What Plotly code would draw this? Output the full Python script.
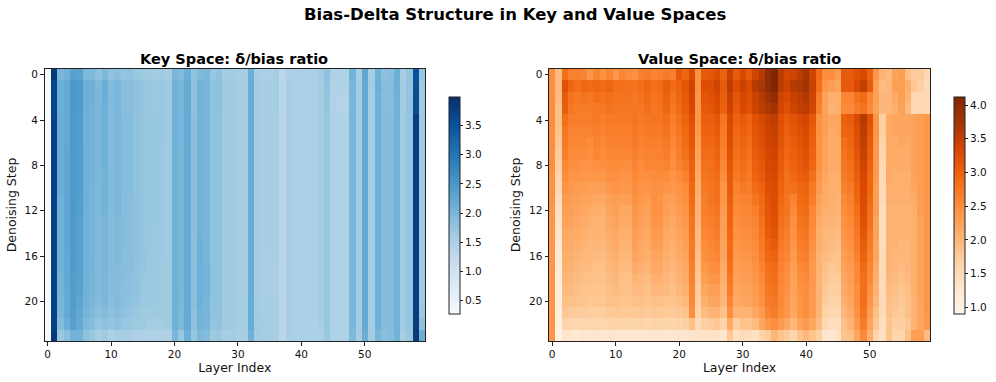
import plotly.graph_objects as go

# delta/bias ratio x 100, one list per denoising step
key_rows = [
[30,385,200,208,235,232,195,195,180,195,178,185,175,178,172,165,165,162,165,160,200,192,212,178,195,198,172,178,160,162,155,155,212,155,150,150,155,135,150,148,150,148,150,162,180,145,145,145,205,155,225,158,208,182,185,212,158,176,352,172],
[30,368,212,218,248,244,210,208,196,212,190,198,184,187,180,175,172,170,170,165,210,202,220,182,205,202,180,182,165,165,160,160,217,160,155,155,158,135,155,150,150,150,150,160,178,145,145,145,200,160,222,160,212,188,188,210,160,176,358,165],
[30,368,212,220,248,244,210,208,198,212,192,198,186,187,180,175,172,170,170,165,210,202,220,182,205,202,180,182,165,165,160,160,217,160,155,155,158,135,155,150,150,150,150,160,175,145,142,142,198,160,222,160,208,188,188,208,160,176,360,165],
[30,368,212,220,248,244,210,206,198,210,192,198,186,187,180,175,172,170,170,165,210,202,220,182,205,202,180,182,165,165,160,160,217,160,155,155,158,135,155,150,150,150,150,160,175,145,142,142,198,160,222,160,208,188,188,208,160,176,360,165],
[30,372,214,222,248,242,210,206,198,208,192,198,188,188,180,175,172,172,170,165,210,202,220,184,205,202,180,180,165,165,160,160,217,160,155,155,156,135,155,150,150,150,150,160,172,145,145,145,200,160,220,160,208,190,190,205,163,175,380,165],
[30,372,214,222,248,242,210,206,198,208,192,198,188,188,180,175,172,172,170,165,210,202,220,184,205,202,180,180,165,165,160,160,217,160,155,155,156,135,155,150,150,150,150,160,172,145,145,145,200,160,220,160,208,190,190,205,163,175,380,165],
[30,372,214,222,248,242,210,206,198,208,192,198,188,188,180,175,172,172,168,165,210,202,220,184,205,202,180,180,165,165,160,160,217,160,155,155,155,135,155,150,150,150,150,160,172,145,145,145,200,160,220,160,208,190,190,205,163,175,380,165],
[30,372,214,224,246,240,210,206,198,208,192,198,188,188,180,175,172,172,168,165,208,202,220,184,205,202,180,180,165,165,160,160,217,160,155,155,155,135,155,150,150,150,150,160,172,145,145,145,200,160,220,160,208,190,190,205,163,175,380,165],
[30,372,214,224,246,240,210,206,198,208,192,198,188,188,180,175,172,172,168,165,208,202,220,184,205,202,180,180,165,165,160,160,217,160,155,155,155,135,155,150,150,150,150,160,172,145,145,145,200,160,220,160,208,190,190,205,163,175,380,165],
[30,372,214,224,246,240,210,206,198,205,192,198,188,188,180,175,172,172,168,165,208,202,220,184,207,202,180,180,165,165,160,160,217,160,155,155,155,135,153,150,150,150,150,160,172,145,145,145,200,160,220,160,208,190,190,205,163,175,380,165],
[30,372,214,224,246,240,210,204,196,205,192,198,188,188,180,174,172,172,168,165,208,202,220,184,207,202,180,180,165,165,160,160,217,160,155,155,155,135,153,150,150,150,150,160,172,145,145,145,200,160,220,160,208,190,190,205,163,175,380,165],
[30,372,210,224,246,238,210,204,196,205,192,198,188,186,180,174,172,172,168,165,208,202,220,184,207,202,180,180,165,165,160,160,217,160,155,155,155,135,153,150,150,150,150,160,172,145,145,145,200,160,220,160,208,190,190,205,163,175,380,165],
[30,372,208,224,246,238,208,204,196,205,190,198,188,186,180,174,172,172,168,165,208,202,220,184,207,202,180,180,165,165,160,160,217,160,155,155,155,135,153,150,150,150,150,160,172,145,145,145,200,160,220,160,208,190,190,205,163,175,380,165],
[30,372,208,224,246,236,208,204,196,202,190,195,188,186,180,174,172,172,168,165,208,202,220,184,207,202,180,180,165,165,160,160,217,160,155,155,155,135,153,150,150,150,150,160,172,145,145,145,200,160,220,160,208,190,190,205,163,175,380,165],
[30,372,208,224,244,236,208,204,196,202,190,195,188,186,180,174,172,170,168,165,208,200,220,184,207,202,180,180,165,165,160,160,217,160,155,155,155,135,153,150,150,150,150,160,172,145,145,145,200,160,220,160,208,190,190,205,163,175,380,165],
[30,372,208,224,244,236,208,204,196,202,190,195,188,186,180,174,172,170,168,165,208,200,220,184,210,202,180,180,165,165,160,160,217,160,155,155,155,135,153,150,150,150,150,160,172,145,145,145,200,160,220,160,208,190,190,205,163,175,380,165],
[30,372,208,222,244,234,208,204,194,202,190,195,186,186,180,174,170,170,168,165,208,200,220,184,210,202,180,180,165,165,160,160,217,160,155,152,155,135,153,150,150,150,150,160,172,145,145,145,200,160,220,160,208,190,190,205,163,175,380,165],
[30,372,208,222,244,234,206,204,194,200,190,192,186,186,178,174,170,170,165,165,208,200,220,184,210,204,180,180,165,165,160,160,217,160,155,152,152,135,153,150,150,150,150,160,172,145,145,145,200,160,220,160,208,190,190,205,163,175,380,165],
[30,372,205,222,242,234,206,202,194,200,188,192,186,184,178,172,170,170,165,165,208,200,220,184,210,204,180,180,165,165,160,160,217,160,155,152,152,135,153,150,150,150,150,160,172,145,145,145,200,160,220,160,208,190,190,205,163,175,380,165],
[30,372,205,220,242,232,206,202,194,198,188,190,184,184,178,172,170,168,165,165,208,198,220,184,210,204,180,180,165,165,160,160,217,160,155,152,152,135,153,150,150,150,150,160,172,145,145,145,200,160,220,160,208,190,190,205,163,175,380,165],
[30,372,202,220,242,228,206,198,190,198,186,190,184,180,176,168,168,168,165,165,208,198,220,184,210,202,180,180,165,165,160,160,217,162,158,155,152,135,153,150,150,150,150,160,172,145,145,145,200,160,220,160,208,190,190,205,163,175,380,165],
[30,372,198,220,238,224,204,195,184,190,182,186,180,176,172,165,165,165,165,165,208,195,220,182,207,202,178,180,165,165,160,160,217,162,158,155,152,135,153,150,150,150,150,160,172,145,145,145,200,160,220,160,208,190,190,205,163,175,380,168],
[30,376,190,212,234,220,195,188,175,180,175,180,172,172,165,165,160,160,160,165,208,195,220,180,205,200,175,178,165,165,160,160,217,162,160,158,152,135,153,150,150,150,150,155,172,148,145,145,200,160,220,160,208,190,190,205,163,175,382,180],
[30,385,170,185,205,205,178,170,155,165,148,155,155,152,148,148,145,145,148,148,200,172,212,172,195,190,165,170,155,160,155,155,208,162,158,158,152,135,153,150,150,150,150,150,168,145,145,145,196,160,212,160,200,185,188,205,158,172,388,212],
]

value_rows = [
[250,195,285,265,265,260,240,260,245,260,240,260,250,245,265,270,260,265,270,265,310,295,330,245,310,315,325,300,345,310,330,310,340,360,395,412,355,335,340,355,375,340,290,250,250,230,310,310,320,330,300,240,205,195,225,230,190,175,175,155],
[250,195,320,295,285,295,290,295,290,295,285,285,280,280,285,295,285,290,305,290,300,315,340,245,325,325,340,310,355,325,345,330,360,370,395,412,355,340,360,365,380,345,285,240,230,220,310,310,330,350,310,230,195,200,230,230,210,180,170,150],
[250,195,310,280,275,280,275,285,280,285,280,280,280,275,280,290,280,285,300,280,295,310,335,240,315,320,330,305,345,315,335,325,345,360,380,395,340,330,345,355,365,340,270,225,210,210,260,260,280,290,260,230,200,200,215,230,205,155,155,155],
[250,190,305,275,270,270,270,275,275,280,275,275,275,275,275,285,275,280,295,275,290,305,330,240,310,315,325,300,340,310,330,320,340,355,365,375,335,320,340,350,355,335,265,225,205,210,255,255,270,280,255,225,200,200,210,225,195,155,155,155],
[250,190,285,268,268,268,268,272,268,272,272,272,272,280,272,278,278,278,285,268,282,298,320,240,302,302,312,278,330,298,308,298,320,330,345,352,322,308,318,328,335,312,245,230,220,220,300,305,330,360,320,240,170,215,220,220,220,225,230,240],
[250,185,278,262,262,262,262,268,262,268,268,268,268,275,268,272,272,272,280,262,278,292,316,235,298,298,308,272,326,292,302,292,316,326,342,348,318,302,312,322,330,306,245,230,215,220,295,300,325,355,315,240,170,215,220,220,220,225,230,240],
[250,180,272,258,258,258,252,262,258,262,262,262,262,270,262,266,266,266,272,258,272,288,312,230,292,292,302,268,322,288,298,288,312,322,338,344,314,298,306,316,326,302,245,225,215,215,285,295,320,350,310,235,165,215,215,220,215,225,230,240],
[250,175,268,252,252,252,248,258,252,258,258,258,258,266,258,262,262,262,268,252,268,282,308,225,288,288,298,262,318,282,292,282,308,318,334,340,310,292,302,312,322,298,245,225,215,215,280,290,315,345,305,235,160,215,215,215,215,225,230,240],
[250,170,258,248,248,242,242,248,248,252,252,252,248,262,252,258,258,258,262,248,262,272,302,220,282,282,292,258,312,278,288,278,302,312,330,335,306,288,298,308,316,292,245,225,215,215,275,285,310,340,300,235,155,215,215,215,215,225,230,240],
[245,160,252,242,242,238,238,238,238,248,248,242,242,256,248,248,252,252,252,242,252,262,298,215,278,282,288,252,308,272,282,272,298,308,326,332,302,282,292,302,308,282,240,220,210,210,270,280,305,335,295,235,150,215,210,210,210,225,230,240],
[245,155,242,238,232,232,228,228,228,238,242,238,238,250,242,242,246,246,242,238,242,252,292,210,272,278,282,242,306,262,272,268,288,298,322,328,298,282,282,292,298,272,235,215,210,210,265,270,300,330,295,230,150,210,210,210,210,220,230,240],
[245,145,232,232,228,224,224,218,218,228,232,228,228,245,238,232,246,242,232,228,238,248,288,205,268,278,282,238,302,258,262,262,278,292,318,325,292,278,262,288,292,268,225,215,210,205,255,265,295,328,290,230,148,208,208,208,208,215,230,240],
[240,140,228,228,224,218,214,210,210,224,228,218,218,240,232,228,245,245,228,224,232,242,282,205,268,272,278,234,300,254,258,258,268,288,315,325,288,278,254,282,288,258,220,210,210,205,250,260,285,325,285,230,145,205,205,205,205,210,230,240],
[240,135,224,224,218,214,210,205,205,218,224,214,214,236,228,224,240,240,224,218,228,238,278,200,262,268,272,230,298,248,254,254,262,282,312,320,282,272,248,278,282,254,215,205,205,200,245,255,280,320,280,225,145,205,205,205,205,210,225,240],
[240,130,218,218,214,210,205,205,205,214,218,210,210,232,224,218,235,235,218,214,224,232,278,195,258,262,268,228,292,245,250,250,258,278,308,316,278,268,245,272,278,250,210,200,200,195,240,250,275,315,275,225,145,205,205,205,205,210,225,240],
[240,125,214,214,210,205,200,200,200,210,214,205,205,228,218,214,230,228,214,210,218,228,272,195,252,258,262,224,288,240,245,245,254,272,298,308,272,262,240,268,272,245,210,200,195,190,235,245,270,305,270,220,145,205,205,200,200,210,225,240],
[240,120,210,210,205,200,198,195,195,205,210,200,200,222,214,210,222,222,210,205,214,224,272,190,248,254,258,220,288,235,240,240,250,268,292,298,268,258,235,262,268,240,205,195,190,185,230,240,265,300,265,220,150,205,200,200,200,210,225,240],
[240,115,205,205,200,195,195,190,190,200,205,195,195,214,208,205,218,218,205,200,208,218,268,185,240,248,250,215,282,230,235,235,245,262,285,290,262,252,230,255,260,235,205,190,180,185,225,235,255,290,260,215,150,205,200,195,200,210,225,240],
[240,112,200,200,195,190,190,188,188,195,200,190,190,205,200,195,208,208,200,195,205,215,262,180,230,240,240,210,275,225,230,230,240,255,280,285,258,248,225,250,255,235,205,185,175,175,220,230,255,285,255,210,150,200,195,190,195,210,225,240],
[240,110,195,195,190,185,185,185,185,190,195,190,188,195,195,190,200,200,195,190,200,205,258,175,220,230,230,205,270,220,225,225,235,250,275,280,255,245,225,245,250,235,205,180,170,170,215,225,250,285,245,205,150,195,190,185,190,210,225,240],
[240,108,190,188,185,185,180,182,182,188,190,185,185,190,190,185,190,190,185,185,190,198,255,170,210,220,220,200,260,215,220,220,230,245,270,275,255,240,220,240,250,235,205,175,165,165,210,220,250,285,240,200,150,190,185,180,190,205,222,240],
[240,105,182,178,175,175,172,172,172,178,180,178,178,180,180,178,180,180,178,178,180,185,250,165,195,205,205,188,250,205,205,205,220,235,262,270,250,240,220,240,250,235,205,165,155,155,200,215,245,280,230,190,150,190,180,175,190,205,220,240],
[240,105,165,160,158,160,158,160,160,165,165,162,162,165,165,160,165,165,162,160,165,170,190,150,170,175,180,165,215,170,185,185,195,220,240,250,235,220,200,225,235,220,195,155,145,145,190,205,235,270,220,180,145,185,170,170,180,205,220,235],
[240,100,130,130,122,130,128,130,128,130,128,125,128,128,125,128,130,130,128,128,130,130,135,135,135,135,135,130,180,140,150,145,140,165,175,200,185,175,160,185,200,185,170,130,125,135,185,190,220,255,210,160,140,185,160,160,190,230,230,195],
]

key_title = "Key Space: δ/bias ratio"
value_title = "Value Space: δ/bias ratio"
main_title = "Bias-Delta Structure in Key and Value Spaces"
x_ticks = [0, 10, 20, 30, 40, 50]
y_ticks = [0, 4, 8, 12, 16, 20]
blues = ["#f7fbff", "#deebf7", "#c6dbef", "#9ecae1", "#6baed6", "#4292c6", "#2171b5", "#08519c", "#08306b"]
oranges = ["#fff5eb", "#fee6ce", "#fdd0a2", "#fdae6b", "#fd8d3c", "#f16913", "#d94801", "#a63603", "#7f2704"]

assert all(len(r) == 60 for r in key_rows + value_rows) and len(key_rows) == len(value_rows) == 24

W, H = 996, 382
FONT = "DejaVu Sans"
INK = "#222222"


def px(x):
    return x / W


def py(y):
    return 1 - y / H


def scale(cols):
    return [[i / (len(cols) - 1), c] for i, c in enumerate(cols)]


def cbar(x_px, ticks):
    return dict(
        x=px(x_px), xanchor="left", xpad=0, ypad=0, thickness=11, thicknessmode="pixels",
        len=217 / H, lenmode="fraction", y=py(205.5), yanchor="middle",
        outlinecolor=INK, outlinewidth=1, tickmode="array", tickvals=ticks,
        ticktext=[f"{t:.1f}" for t in ticks], ticks="outside", ticklen=3, tickwidth=1,
        tickcolor=INK, tickfont=dict(family=FONT, size=10.5, color="#111111"),
    )


fig = go.Figure()
fig.add_trace(go.Heatmap(
    z=[[v / 100 for v in r] for r in key_rows], colorscale=scale(blues), zmin=0.27, zmax=3.99,
    xaxis="x", yaxis="y", colorbar=cbar(449, [0.5, 1, 1.5, 2, 2.5, 3, 3.5]),
))
fig.add_trace(go.Heatmap(
    z=[[v / 100 for v in r] for r in value_rows], colorscale=scale(oranges), zmin=0.90, zmax=4.12,
    xaxis="x2", yaxis="y2", colorbar=cbar(954, [1, 1.5, 2, 2.5, 3, 3.5, 4]),
))

ax_common = dict(
    showgrid=False, zeroline=False, showline=True, mirror=True, linecolor=INK, linewidth=1,
    ticks="outside", ticklen=3.5, tickwidth=1, tickcolor=INK,
    tickfont=dict(family=FONT, size=10.5, color="#111111"),
    title_font=dict(family=FONT, size=12.5, color="#111111"),
)
top, bottom = py(69), py(341)
fig.update_layout(
    width=W, height=H, autosize=False, margin=dict(l=0, r=0, t=0, b=0),
    paper_bgcolor="white", plot_bgcolor="white", showlegend=False,
    xaxis=dict(ax_common, domain=[px(44.5), px(425)], range=[-0.5, 59.5], tickvals=x_ticks,
               title=dict(text="Layer Index", standoff=4), anchor="y"),
    yaxis=dict(ax_common, domain=[bottom, top], range=[23.5, -0.5], tickvals=y_ticks,
               title=dict(text="Denoising Step", standoff=5), anchor="x"),
    xaxis2=dict(ax_common, domain=[px(549), px(930)], range=[-0.5, 59.5], tickvals=x_ticks,
                title=dict(text="Layer Index", standoff=4), anchor="y2"),
    yaxis2=dict(ax_common, domain=[bottom, top], range=[23.5, -0.5], tickvals=y_ticks,
                title=dict(text="Denoising Step", standoff=5), anchor="x2"),
    annotations=[
        dict(text=f"<b>{main_title}</b>", xref="paper", yref="paper", x=px(515), y=py(14.5),
             xanchor="center", yanchor="middle", showarrow=False, font=dict(family=FONT, size=16.5, color="black")),
        dict(text=f"<b>{key_title}</b>", xref="paper", yref="paper", x=px(234), y=py(59),
             xanchor="center", yanchor="middle", showarrow=False, font=dict(family=FONT, size=14.5, color="black")),
        dict(text=f"<b>{value_title}</b>", xref="paper", yref="paper", x=px(739), y=py(59),
             xanchor="center", yanchor="middle", showarrow=False, font=dict(family=FONT, size=14.5, color="black")),
    ],
)
fig.write_html(
    "out.html",
    config={"displayModeBar": False},
    post_script="document.body.style.margin='0';document.documentElement.style.overflow='hidden';",
)
